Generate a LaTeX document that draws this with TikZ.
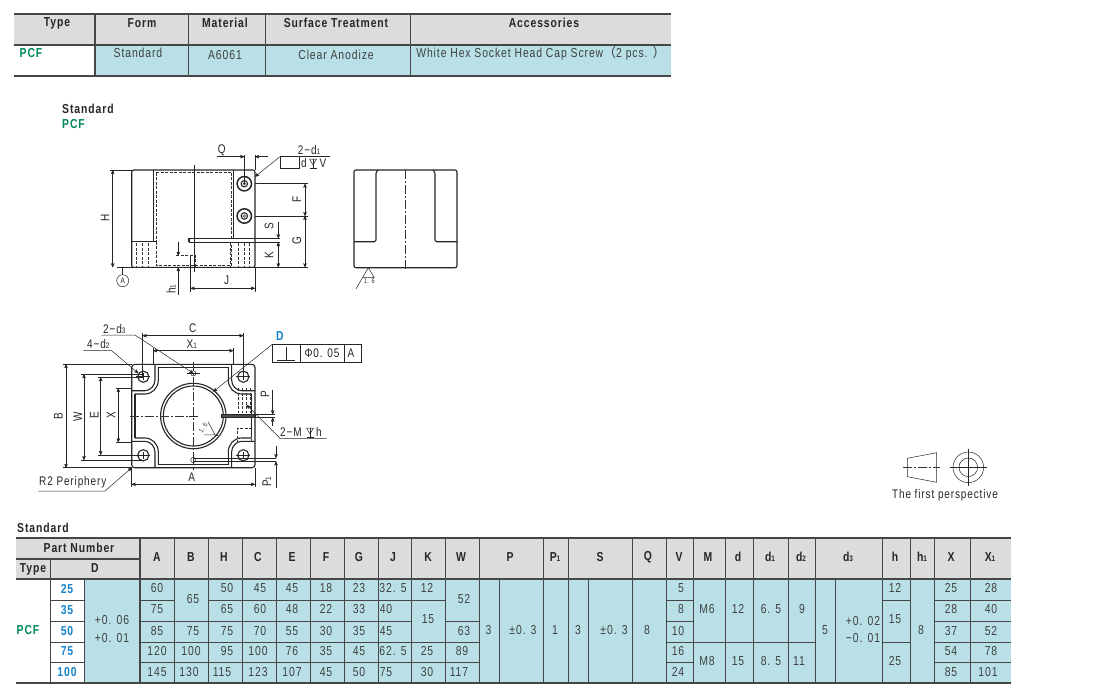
\documentclass[tikz,border=0pt]{standalone}
\usepackage{fontspec}
\setmainfont[FakeStretch=0.8,LetterSpace=7]{Liberation Sans}
\newfontfamily\cjk{Noto Sans CJK SC}
\usetikzlibrary{arrows}
\tikzset{>=stealth'}
\definecolor{cellblue}{RGB}{184, 224, 230}
\definecolor{headgrey}{RGB}{220, 220, 220}
\definecolor{rulegrey}{RGB}{70, 70, 70}
\definecolor{typegreen}{RGB}{0, 135, 90}
\definecolor{sizeblue}{RGB}{20, 130, 205}
\tikzset{
	objline/.style={line width=1.1pt, color=black!85},
	thinline/.style={line width=0.5pt, color=black!85},
	hidline/.style={line width=0.6pt, color=black!80, dash pattern=on 3pt off 1.5pt},
	axisline/.style={line width=0.45pt, color=black!80, dash pattern=on 9pt off 2pt on 2pt off 2pt},
	dimline/.style={thinline, <->},
	tabrule/.style={line width=0.7pt, color=rulegrey},
	tabheavy/.style={line width=1.5pt, color=rulegrey},
	lab/.style={inner sep=0pt, font=\fontsize{12.5}{12}\selectfont, text=black!85},
	headlab/.style={inner sep=0pt, font=\fontsize{13}{12}\selectfont\bfseries, text=black!85},
	vallab/.style={inner sep=0pt, font=\fontsize{13}{12}\selectfont, text=black!75},
	sizelab/.style={inner sep=0pt, font=\fontsize{13}{12}\selectfont\bfseries, text=sizeblue},
	typelab/.style={inner sep=0pt, font=\fontsize{13}{12}\selectfont\bfseries, text=typegreen}
}
\newcommand{\sbs}[1]{{\fontsize{8}{8}\selectfont #1}}
\newcommand{\depthmark}[2]{% {x}{y}
	\draw[thinline] (#1-3.5,#2-4) -- (#1+3.5,#2-4) -- (#1,#2+2) -- (#1-3.5,#2-4);
	\draw[thinline] (#1,#2-4) -- (#1,#2+5);
	\draw[thinline] (#1-3.5,#2+5) -- (#1+3.5,#2+5);
}
\begin{document}
\begin{tikzpicture}[x=1pt,y=-1pt]
	\useasboundingbox (0,0) rectangle (1100,691);
	\fill[white] (0,0) rectangle (1100,691);

	% upper table
	\fill[headgrey] (14,13) rectangle (671,45);
	\fill[cellblue] (95,45) rectangle (671,76);
	\draw[tabheavy] (14,14) -- (671,14);
	\draw[tabheavy] (14,45) -- (671,45);
	\draw[tabheavy] (14,76) -- (671,76);
	\draw[tabheavy] (95,14) -- (95,76);
	\foreach \xx in {188,265,410} \draw[tabrule] (\xx,14) -- (\xx,76);
	\foreach \xx/\txt [count=\n] in {57/Type,142/Form,225/Material,336/Surface Treatment,544/Accessories}
		\node[headlab] (top\n) at (\xx,23) {\txt};
	\node[typelab] (toptype) at (31,53) {PCF};
	\node[vallab] (topform) at (138,53) {Standard};
	\node[vallab] (topmat) at (225,55) {A6061};
	\node[vallab] (topsurf) at (336,55) {Clear Anodize};
	\node[vallab] (topacc) at (541,53) {White Hex Socket Head Cap Screw{\cjk （}2 pcs. {\cjk ）}};

	\node[headlab, anchor=west] (stdname) at (62,109) {Standard};
	\node[typelab, anchor=west] (stdtype) at (62,124) {PCF};

	% side view
	\draw[objline, rounded corners=2pt] (131.7,267.3) -- (131.7,170) -- (255,170) -- (255,267.3) -- cycle;
	\draw[objline] (153.3,170) -- (153.3,241.7);
	\draw[objline] (131.7,241.7) -- (156,241.7);
	\draw[objline] (233.3,170) -- (233.3,238.3);
	\draw[objline] (189,238.3) -- (255,238.3);
	\draw[objline] (189,242.3) -- (255,242.3);
	\draw[objline] (189,238.3) -- (189,242.3);
	\draw[hidline] (156,241.7) -- (156,265.7) -- (231,265.7) -- (231,242.3);
	\draw[hidline] (156,172.7) -- (231,172.7);
	\draw[hidline] (156,172.7) -- (156,241.7);
	\draw[hidline] (231,172.7) -- (231,238.3);
	\foreach \xx in {136.7,142.7,148.3,230.7,238.3,244,249.3}
		\draw[hidline] (\xx,243) -- (\xx,267);
	\foreach \yy in {183.7,216} {
		\draw[objline, line width=1.5pt] (244.3,\yy) circle (7.2);
		\draw[objline] (244.3,\yy) circle (3.2);
		\draw[thinline] (244.3,\yy) circle (1.2);
	}
	\draw[thinline] (194,165) -- (194,272);
	\draw[hidline] (176,255.7) -- (195,255.7) -- (195,267);
	\draw[thinline] (190.7,256) -- (190.7,292);

	% dimensions of side view
	\draw[thinline] (110,170) -- (131.7,170);
	\draw[thinline] (117,267.3) -- (308,267.3);
	\draw[dimline] (112.7,170) -- (112.7,267.3);
	\node[lab, rotate=90] (labH) at (105,218) {H};
	\draw[thinline] (122.7,268) -- (122.7,275);
	\node[draw, thinline, circle, minimum size=12pt, inner sep=0pt, font=\fontsize{8}{8}\selectfont] (datA) at (122.7,280.7) {A};
	\draw[thinline] (244.3,155) -- (244.3,183.7);
	\draw[thinline] (255,155) -- (255,170);
	\draw[thinline, ->] (216.7,156.7) -- (244.3,156.7);
	\draw[thinline, ->] (268,156.7) -- (255,156.7);
	\node[lab] (labQ) at (221.7,150) {Q};
	\node[lab] (labdone) at (309,150) {2−d\sbs{1}};
	\draw[thinline, ->] (280,156.7) -- (255,176.7);
	\draw[thinline] (280,156.7) -- (330,156.7);
	\draw[thinline] (280,156.7) -- (280,168.3) -- (299.3,168.3) -- (299.3,156.7);
	\node[lab] (labd) at (304,163) {d};
	\depthmark{313}{163}
	\node[lab] (labV) at (323,163) {V};
	\draw[thinline] (255,183.7) -- (308,183.7);
	\draw[thinline] (255,216) -- (308,216);
	\draw[dimline] (305,183.7) -- (305,216);
	\draw[dimline] (305,216) -- (305,267.3);
	\node[lab, rotate=90] (labF) at (296.7,199.3) {F};
	\node[lab, rotate=90] (labG) at (296.7,241) {G};
	\draw[thinline] (255,238.3) -- (280,238.3);
	\draw[thinline] (255,242.3) -- (280,242.3);
	\draw[thinline, ->] (278.3,222) -- (278.3,238.3);
	\draw[dimline] (278.3,242.3) -- (278.3,267.3);
	\node[lab, rotate=90] (labS) at (269,225.7) {S};
	\node[lab, rotate=90] (labK) at (269,255) {K};
	\draw[thinline] (255,267.3) -- (255,292);
	\draw[dimline] (190.7,288.3) -- (255,288.3);
	\node[lab] (labJ) at (226.7,280) {J};
	\draw[thinline, ->] (178.3,241.7) -- (178.3,255.7);
	\draw[thinline, ->] (178.3,295) -- (178.3,267.3);
	\node[lab, rotate=90] (labhone) at (171,289) {h\sbs{1}};

	% front view
	\draw[objline, rounded corners=2pt] (354,267.7) -- (354,170) -- (457,170) -- (457,267.7) -- cycle;
	\draw[objline, rounded corners=1.5pt] (378,170) -- (376,172) -- (376,241.7) -- (354,241.7);
	\draw[objline, rounded corners=1.5pt] (433,170) -- (435,172) -- (435,241.7) -- (457,241.7);
	\draw[axisline] (405.7,170) -- (405.7,270.7);
	\draw[thinline] (356,289) -- (368.3,267.7) -- (374.3,277.7) -- (362.3,277.7);
	\node[inner sep=0pt, font=\fontsize{7}{7}\selectfont, text=black!80] (labrough) at (369.3,281) {1. 6};

	% top view
	\draw[objline, rounded corners=3pt] (131.7,364.3) rectangle (255,467.7);
	\foreach \sx/\sy in {1/1,-1/1,1/-1,-1/-1} {
		\begin{scope}[shift={(193.3,416)},xscale=\sx,yscale=\sy]
			\draw[objline] (38.3,51.7) -- (38.3,36) .. controls (38.3,30) and (43.5,25.3) .. (48.3,25.3) -- (61.6,25.3);
			\draw[objline] (35,48.4) -- (35,36) .. controls (35,28) and (41,22) .. (48.3,22) -- (58.3,22);
			\draw[objline] (50,39.3) circle (5.6);
			\draw[thinline] (43,39.3) -- (57,39.3);
			\draw[thinline] (50,36) -- (50,43);
		\end{scope}
	}
	\draw[objline] (158,367.7) -- (228.6,367.7);
	\draw[objline] (158,464.3) -- (228.6,464.3);
	\draw[objline] (135,393.7) -- (135,438.3);
	\draw[objline] (251.7,393.7) -- (251.7,414.3);
	\draw[objline] (251.7,417.7) -- (251.7,438.3);
	\draw[objline] (193.3,416) circle (32.7);
	\draw[objline] (193.3,416) circle (30);
	\draw[objline, fill=black!70] (221.7,414.3) rectangle (255,417.7);
	\draw[axisline] (130,416) -- (193.3,416);
	\draw[axisline] (193.3,362) -- (193.3,470);
	\draw[thinline] (189,416) -- (198,416);
	\foreach \xx in {238.3,242,246.3,250} \draw[hidline] (\xx,388) -- (\xx,413);
	\draw[hidline] (237,443) -- (237,428) -- (251.5,428) -- (251.5,443);
	\draw[thinline] (193.3,373.3) circle (2.6);
	\draw[thinline] (193.3,460) circle (2.6);
	\draw[thinline] (187,373.3) -- (200,373.3);
	\draw[thinline] (193.3,458) -- (276,458);
	\draw[thinline] (193.3,461.5) -- (276,461.5);
	\draw[thinline] (208,421.7) -- (215,434.8) -- (204,434.8);
	\draw[thinline] (215,434.8) -- (218,434.8);
	\node[inner sep=0pt, rotate=60, font=\fontsize{7}{7}\selectfont, text=black!80] (labrtwo) at (203,428) {1. 6};

	% dimensions of top view
	\draw[thinline] (142.7,333) -- (142.7,376.7);
	\draw[thinline] (243.3,333) -- (243.3,376.7);
	\draw[dimline] (142.7,335.7) -- (243.3,335.7);
	\node[lab] (labC) at (192.7,328.3) {C};
	\draw[thinline] (153.3,348) -- (153.3,364.3);
	\draw[thinline] (233.3,348) -- (233.3,364.3);
	\draw[dimline] (153.3,350.7) -- (233.3,350.7);
	\node[lab] (labXone) at (191.7,344) {X\sbs{1}};
	\draw[thinline] (63,364.3) -- (131.7,364.3);
	\draw[thinline] (63,467.7) -- (131.7,467.7);
	\draw[dimline] (66,364.3) -- (66,467.7);
	\node[lab, rotate=90] (labB) at (58.3,416) {B};
	\draw[thinline] (81,374.3) -- (142.7,374.3);
	\draw[thinline] (81,460) -- (142.7,460);
	\draw[dimline] (84,374.3) -- (84,460);
	\node[lab, rotate=90] (labW) at (77.7,416.7) {W};
	\draw[thinline] (98,377.3) -- (142.7,377.3);
	\draw[thinline] (98,455) -- (142.7,455);
	\draw[dimline] (100.7,377.3) -- (100.7,455);
	\node[lab, rotate=90] (labE) at (94.3,415) {E};
	\draw[thinline] (116,388.3) -- (131.7,388.3);
	\draw[thinline] (116,442.3) -- (131.7,442.3);
	\draw[dimline] (118.3,388.3) -- (118.3,442.3);
	\node[lab, rotate=90] (labX) at (111,415) {X};
	\draw[thinline] (131.7,467.7) -- (131.7,487);
	\draw[thinline] (255,467.7) -- (255,487);
	\draw[dimline] (131.7,484.3) -- (255,484.3);
	\node[lab] (labA) at (191.7,477) {A};
	\draw[thinline] (255,414.3) -- (275,414.3);
	\draw[thinline] (255,417.7) -- (275,417.7);
	\draw[thinline, ->] (272.7,390) -- (272.7,414.3);
	\draw[thinline, ->] (272.7,426) -- (272.7,417.7);
	\node[lab, rotate=90] (labP) at (265,394) {P};
	\draw[thinline, ->] (276,446) -- (276,458);
	\draw[thinline, ->] (276,488) -- (276,461.5);
	\node[lab, rotate=90] (labPone) at (266.7,481.7) {P\sbs{1}};
	\node[lab] (labdthree) at (114.3,329) {2−d\sbs{3}};
	\draw[thinline, ->] (101.7,335) -- (135,335) -- (193.3,373.3);
	\node[lab] (labdtwo) at (98.3,344) {4−d\sbs{2}};
	\draw[thinline, ->] (83.3,350.7) -- (111.7,350.7) -- (138.3,373.3);
	\node[inner sep=0pt, font=\fontsize{13}{12}\selectfont\bfseries, text=sizeblue] (labD) at (280,336) {D};
	\draw[thinline] (272.3,344.3) rectangle (361.7,362.7);
	\draw[thinline] (300,344.3) -- (300,362.7);
	\draw[thinline] (344,344.3) -- (344,362.7);
	\draw[thinline] (277,360.5) -- (295,360.5);
	\draw[thinline] (286,347) -- (286,360.5);
	\node[lab] (labtol) at (322,352.7) {Φ0. 05};
	\node[lab] (labdat) at (351,352.7) {A};
	\draw[thinline, ->] (272.3,344.3) -- (213.3,391.7);
	\node[lab, anchor=west] (labM) at (280,432) {2−M};
	\depthmark{310}{432}
	\node[lab] (labh) at (319,432) {h};
	\draw[thinline, ->] (326.7,438.3) -- (280,438.3) -- (246.7,405);
	\node[lab, anchor=west] (labperi) at (39,482) {R2 Periphery};
	\draw[thinline, ->] (38.3,491) -- (105,491) -- (131.7,467.7);

	% first angle symbol
	\draw[thinline] (907.3,458.3) -- (936.7,452.7) -- (936.7,482.3) -- (907.3,476.7) -- cycle;
	\draw[axisline] (902.7,467.3) -- (940,467.3);
	\draw[thinline] (968.3,467.3) circle (15.3);
	\draw[thinline] (968.3,467.3) circle (9.3);
	\draw[thinline] (949.5,467.3) -- (987,467.3);
	\draw[thinline] (968.3,448.5) -- (968.3,486);
	\node[lab] (labangle) at (945,495) {The first perspective};

	% lower table
	\node[headlab, anchor=west] (stdtitle) at (17,528) {Standard};
	\fill[headgrey] (16,538) rectangle (1011,579);
	\fill[cellblue] (84,579) rectangle (1011,683);
	\fill[white] (50,579) rectangle (84,683);
	\foreach \ya/\segs in {600/{50/84,140/174,208/445,666/693,882/910,934/1011},
		621/{50/84,140/411,445/479,666/693,934/1011},
		642/{50/84,140/479,666/815,882/910,934/1011},
		662/{50/84,140/479,666/693,934/1011}}
		\foreach \xa/\xb in \segs \draw[tabrule] (\xa,\ya) -- (\xb,\ya);
	\foreach \xx in {174,208,242,276,310,344,378,411,445,479,543,568,632,666,693,725,753,788,815,882,910,934,970}
		\draw[tabrule] (\xx,538) -- (\xx,683);
	\foreach \xx in {84,499,588,835} \draw[tabrule] (\xx,579) -- (\xx,683);
	\draw[tabrule] (50,559) -- (50,683);
	\draw[tabheavy] (16,559) -- (140,559);
	\draw[tabheavy] (140,538) -- (140,683);
	\draw[tabheavy] (16,538) -- (1011,538);
	\draw[tabheavy] (16,579) -- (1011,579);
	\draw[tabheavy] (16,683) -- (1011,683);

	\node[headlab] (hpart) at (79,548) {Part Number};
	\node[headlab] (htype) at (33,569) {Type};
	\node[headlab] (hsize) at (95,568) {D};
	\foreach \xx/\txt [count=\n] in {157/A,191/B,224/H,258/C,292/E,326/F,359/G,393/J,428/K,461/W,510/P,
		555/P\sbs{1},600/S,648/Q,679/V,708/M,738/d,770/d\sbs{1},801/d\sbs{2},848/d\sbs{3},895/h,922/h\sbs{1},951/X,990/X\sbs{1}}
		\node[headlab] (h\n) at (\xx,557) {\txt};
	\node[typelab] (rowtype) at (28,630) {PCF};
	\foreach \yy/\txt [count=\n] in {589/25,610/35,631/50,651/75,672/100}
		\node[sizelab] (size\n) at (67,\yy) {\txt};

	\foreach \xx/\yy/\txt [count=\n] in {
		112/620/+0. 06,112/638/+0. 01,
		157/588/60,157/609/75,157/631/85,157/651/120,157/672/145,
		193/599/65,193/631/75,191/651/100,189/672/130,
		227/588/50,227/609/65,227/631/75,227/651/95,222/672/115,
		260/588/45,260/609/60,260/631/70,258/651/100,258/672/123,
		292/588/45,292/609/48,292/631/55,292/651/76,292/672/107,
		326/588/18,326/609/22,326/631/30,326/651/35,326/672/45,
		359/588/23,359/609/33,359/631/35,359/651/45,359/672/50,
		393/588/32. 5,386/609/40,386/631/45,393/651/62. 5,386/672/75,
		427/588/12,428/619/15,427/651/25,427/672/30,
		464/599/52,464/631/63,462/651/89,459/672/117,
		488.5/630/3,523/630/±0. 3,555/630/1,578/630/3,614/630/±0. 3,647/630/8,
		681/588/5,681/609/8,678/631/10,678/651/16,678/672/24,
		707/609/M6,707/661/M8,738/609/12,738/661/15,
		771/609/6. 5,771/661/8. 5,802/609/9,799/661/11,
		825/630/5,863/621/+0. 02,863/638/−0. 01,
		895/588/12,895/619/15,895/661/25,921/630/8,
		951/588/25,951/609/28,951/631/37,951/651/54,951/672/85,
		991/588/28,991/609/40,991/631/52,991/651/78,988/672/101}
		\node[vallab] (val\n) at (\xx,\yy) {\txt};
\end{tikzpicture}
\end{document}
